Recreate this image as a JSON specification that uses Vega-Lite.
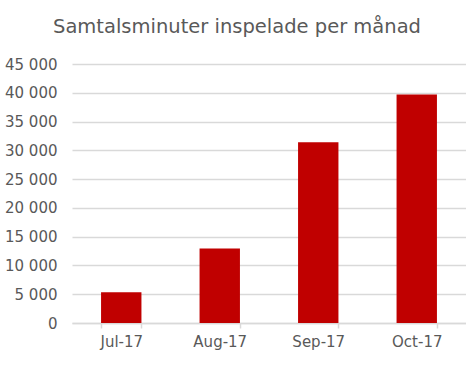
{
  "$schema": "https://vega.github.io/schema/vega-lite/v6.json",
  "width": 394,
  "height": 259,
  "autosize": {"type": "none"},
  "padding": {"left": 72, "top": 64, "right": 0, "bottom": 44},
  "background": "white",
  "title": {
    "text": "Samtalsminuter inspelade per månad",
    "anchor": "middle",
    "dx": -32,
    "offset": 20,
    "font": "DejaVu Sans",
    "fontSize": 19.5,
    "fontWeight": "normal",
    "color": "#595959"
  },
  "data": {
    "values": [
      {"month": "Jul-17", "minutes": 5330},
      {"month": "Aug-17", "minutes": 12950},
      {"month": "Sep-17", "minutes": 31400},
      {"month": "Oct-17", "minutes": 39700}
    ]
  },
  "mark": {"type": "bar", "color": "#C00000"},
  "encoding": {
    "x": {
      "field": "month",
      "type": "nominal",
      "sort": null,
      "title": null,
      "scale": {"paddingInner": 0.59, "paddingOuter": 0.295},
      "axis": {
        "labelAngle": 0,
        "labelFont": "DejaVu Sans",
        "labelFontSize": 15,
        "labelColor": "#595959",
        "labelPadding": 6,
        "domainColor": "#d9d9d9",
        "domainWidth": 1.5,
        "ticks": true,
        "tickBand": "extent",
        "tickColor": "#d9d9d9",
        "tickWidth": 1.5,
        "tickSize": 5
      }
    },
    "y": {
      "field": "minutes",
      "type": "quantitative",
      "title": null,
      "scale": {"domain": [0, 45000], "nice": false},
      "axis": {
        "values": [0, 5000, 10000, 15000, 20000, 25000, 30000, 35000, 40000, 45000],
        "labelExpr": "replace(format(datum.value, ','), ',', ' ')",
        "labelFont": "DejaVu Sans",
        "labelFontSize": 15,
        "labelColor": "#595959",
        "labelPadding": 15,
        "domain": false,
        "ticks": false,
        "grid": true,
        "gridColor": "#d9d9d9",
        "gridWidth": 1.5
      }
    }
  },
  "config": {"view": {"stroke": null}}
}
